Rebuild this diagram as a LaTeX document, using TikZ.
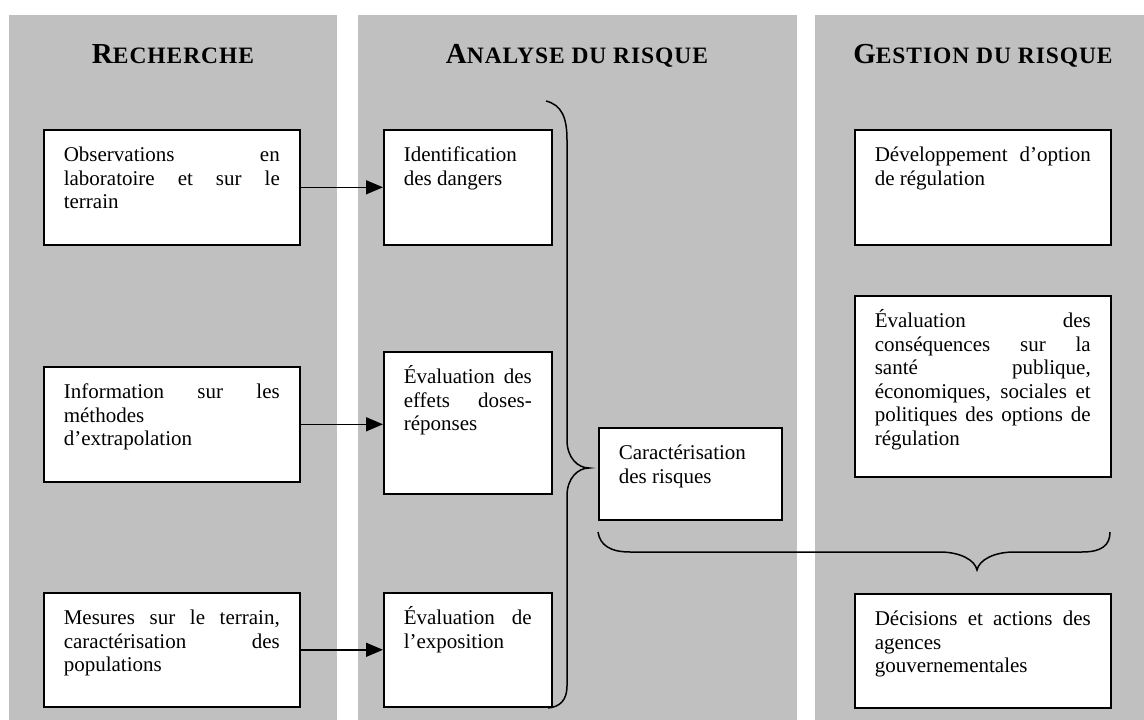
\documentclass[tikz,border=0pt]{standalone}
\usepackage{fontspec}
\setmainfont{Liberation Serif}
\newfontfamily\headfont[LetterSpace=4]{Liberation Serif}
\usetikzlibrary{arrows.meta,positioning}
\definecolor{colgrey}{HTML}{C0C0C0}
\newcommand{\scaphead}[2]{{\fontsize{29}{32}\selectfont #1}{\fontsize{23.5}{26}\selectfont #2}}
\tolerance=10000
\hbadness=10000

\begin{document}
\begin{tikzpicture}[x=1pt, y=-1pt, >={Triangle[length=17pt,width=14pt]},
  tbox/.style={draw, fill=white, line width=1.6pt, anchor=north west, inner xsep=20pt, inner ysep=0pt,
    align=justify, text height=32pt, font=\fontsize{21}{23.5}\selectfont},
  head/.style={anchor=base, font=\headfont\bfseries},
  brace/.style={line width=1.5pt}]
          \useasboundingbox (0,0) rectangle (1144,720);
          \fill[colgrey] (9,15) rectangle (337,720);
          \fill[colgrey] (358,15) rectangle (797,720);
          \fill[colgrey] (815,15) rectangle (1144,720);

          \node[head] (hrech) at (173,63) {\scaphead{R}{ECHERCHE}};
          \node[head] (hana) at (577,63) {\scaphead{A}{NALYSE DU RISQUE}};
          \node[head] (hges) at (983,63) {\scaphead{G}{ESTION DU RISQUE}};

          \node[tbox, text width=216pt, text depth=83pt] (obs) at (43,129) {Observations en\linebreak laboratoire et sur le\linebreak terrain};
          \node[tbox, text width=216pt, text depth=83pt] (info) at (43,366) {Information sur les\linebreak méthodes\linebreak d’extrapolation};
          \node[tbox, text width=216pt, text depth=82pt] (mesures) at (43,592) {Mesures sur le terrain,\linebreak caractérisation des\linebreak populations};

          \node[tbox, text width=128pt, text depth=83pt] (iden) at (383,129) {Identification\linebreak des dangers};
          \node[tbox, text width=128pt, text depth=110pt] (effets) at (383,351) {Évaluation des\linebreak effets doses-\linebreak réponses};
          \node[tbox, text width=128pt, text depth=82pt] (expo) at (383,592) {Évaluation de\linebreak l’exposition};
          \node[tbox, text width=143pt, text depth=60pt] (caract) at (598,427) {Caractérisation\linebreak des risques};

          \node[tbox, text width=216pt, text depth=83pt] (devel) at (854,129) {Développement d’option\linebreak de régulation};
          \node[tbox, text width=216pt, text depth=149pt] (conseq) at (854,295) {Évaluation des\linebreak conséquences sur la\linebreak santé publique,\linebreak économiques, sociales et\linebreak politiques des options de\linebreak régulation};
          \node[tbox, text width=216pt, text depth=82pt] (decis) at (854,593) {Décisions et actions des\linebreak agences\linebreak gouvernementales};

          \draw[->, line width=1.5pt] (obs.east) -- (obs.east -| iden.west);
          \draw[->, line width=1.5pt] (info.east) -- (info.east -| effets.west);
          \draw[->, line width=1.5pt] (mesures.east) -- (mesures.east -| expo.west);

          \draw[brace] (546,101) .. controls (562,105) and (567,118) .. (567,140) -- (567,440)
            .. controls (567,458) and (578,468) .. (589,468) .. controls (578,468) and (567,478) .. (567,496)
            -- (567,686) .. controls (567,700) and (560,707) .. (548,708);
          \draw[brace] (598,532) .. controls (600,545) and (610,552) .. (630,552) -- (940,552)
            .. controls (960,552) and (975,560) .. (977,570) .. controls (979,560) and (994,552) .. (1014,552)
            -- (1082,552) .. controls (1102,552) and (1110,545) .. (1110,532);
        \end{tikzpicture}
\end{document}
